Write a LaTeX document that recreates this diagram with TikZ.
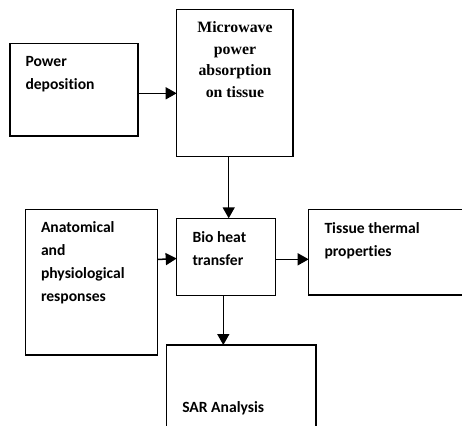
\documentclass[tikz,border=0pt]{standalone}
\usepackage{fontspec}
\setmainfont{Liberation Serif}
\newfontfamily\calfont[Ligatures={NoCommon,NoRare}]{Carlito}
\usetikzlibrary{arrows.meta}
\begin{document}
\begin{tikzpicture}[x=1pt,y=-1pt,
  box/.style={draw,line width=1.2pt,inner sep=0pt,outer sep=0pt,anchor=north west},
  lbl/.style={inner sep=0pt,outer sep=0pt,anchor=base west,align=left,
    font=\calfont\bfseries\fontsize{15.6}{23}\selectfont},
  arr/.style={line width=1.5pt,-{Triangle[length=11pt,width=12pt]}}]
\useasboundingbox (0,0) rectangle (462,425);
% boxes
\node[box,minimum width=128pt,minimum height=92.7pt] (pow) at (10,43.3) {};
\node[box,minimum width=116.3pt,minimum height=147pt] (mw) at (176.7,9.3) {};
\node[box,minimum width=132pt,minimum height=145.7pt] (anat) at (25.7,209.3) {};
\node[box,minimum width=98.6pt,minimum height=77pt] (bio) at (176.7,218.3) {};
\node[box,minimum width=160pt,minimum height=85.7pt] (tis) at (308.7,209.3) {};
\node[box,minimum width=149.3pt,minimum height=100pt] (sar) at (166.7,345) {};
% texts (anchored at the baseline of the last line)
\node[lbl] (powt) at (25.5,89.5) {Power\\deposition};
\node[inner sep=0pt,anchor=base,align=center,
  font=\bfseries\fontsize{15.8}{21.7}\selectfont] (mwt) at (235,97.7)
  {Microwave\\power\\absorption\\on tissue};
\node[lbl] (anatt) at (41,301.7) {Anatomical\\and\\physiological\\responses};
\node[lbl] (biot) at (192.5,265) {Bio heat\\transfer};
\node[lbl] (tist) at (324.5,256) {Tissue thermal\\properties};
\node[lbl] (sart) at (182.3,412.3) {SAR Analysis};
% arrows
\draw[arr] (pow.east |- 0,93.3) -- (mw.west |- 0,93.3);
\draw[arr] (mw.south -| 228.7,0) -- (bio.north -| 228.7,0);
\draw[arr] (anat.east |- 0,259.5) -- (bio.west |- 0,258.5);
\draw[arr] (bio.east |- 0,259.3) -- (tis.west |- 0,259.3);
\draw[arr] (bio.south -| 223.3,0) -- (sar.north -| 223.3,0);
\end{tikzpicture}
\end{document}
